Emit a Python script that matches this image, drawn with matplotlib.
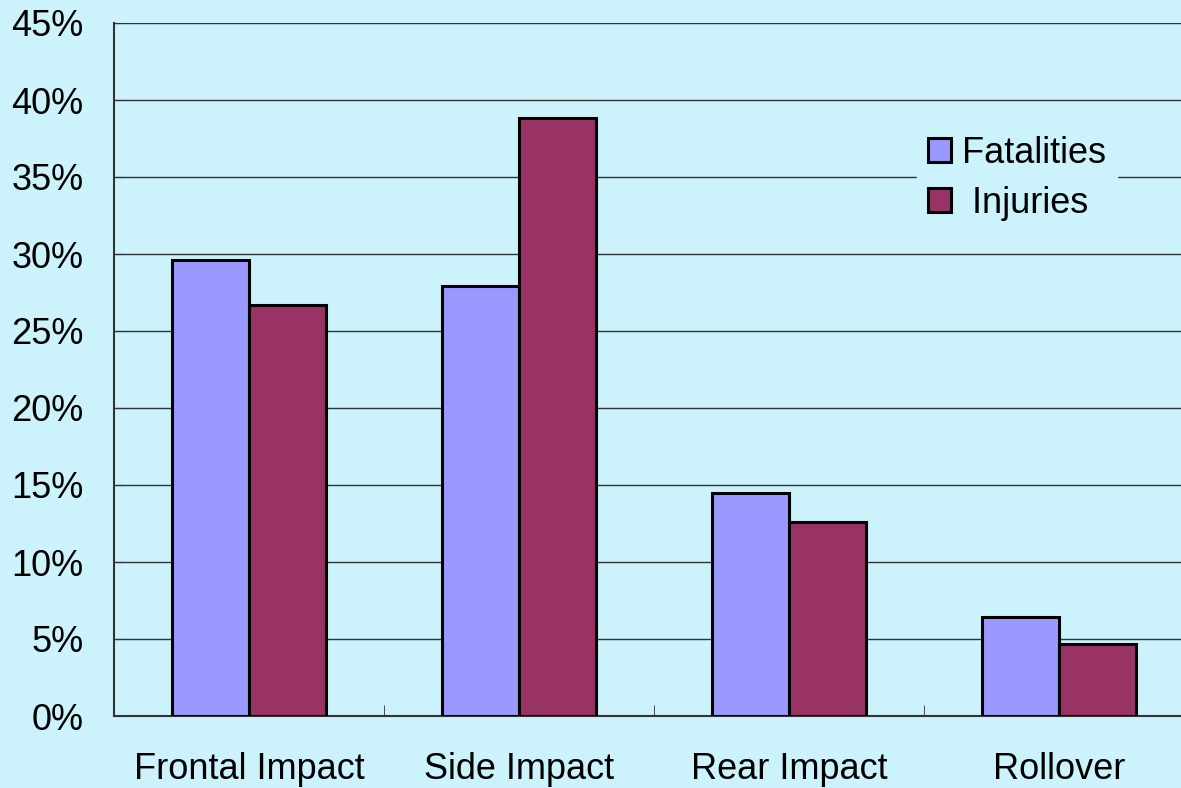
import matplotlib.pyplot as plt
from matplotlib.ticker import PercentFormatter
import numpy as np

plt.rcParams['font.family'] = ['Liberation Sans', 'DejaVu Sans']

categories = ["Frontal Impact", "Side Impact", "Rear Impact", "Rollover"]
fatalities = [29.6, 27.9, 14.5, 6.4]
injuries = [26.7, 38.8, 12.6, 4.7]

bg = "#CCF2FC"
fig = plt.figure(figsize=(11.81, 7.88), dpi=100, facecolor=bg)
ax = fig.add_axes([114 / 1181, 1 - 716 / 788, 1080 / 1181, (716 - 23) / 788])
ax.set_facecolor(bg)

x = np.arange(len(categories))
w = 0.287
ax.bar(x - w / 2, fatalities, w, color="#9999FF", edgecolor="black", linewidth=2.2, label="Fatalities", zorder=3)
ax.bar(x + w / 2, injuries, w, color="#993366", edgecolor="black", linewidth=2.2, label=" Injuries", zorder=3)

ax.set_xlim(-0.5, len(categories) - 0.5)
ax.set_ylim(0, 45)
ax.set_yticks(np.arange(0, 46, 5))
ax.yaxis.set_major_formatter(PercentFormatter(decimals=0))
ax.yaxis.grid(True, color="#333333", linewidth=1, zorder=0)

ax.set_xticks(x)
ax.set_xticklabels(categories)
ax.set_xticks(x[:-1] + 0.5, minor=True)
ax.tick_params(axis="x", which="major", length=0, pad=26, labelsize=26)
ax.tick_params(axis="x", which="minor", length=8, direction="in", color="#333333")
ax.tick_params(axis="y", length=8, direction="in", color="#333333", labelsize=26, pad=22)

for side in ["top", "right"]:
    ax.spines[side].set_visible(False)
ax.spines["left"].set_color("#333333")
ax.spines["left"].set_linewidth(1.5)
ax.spines["bottom"].set_color("#333333")
ax.spines["bottom"].set_linewidth(1.5)

leg = ax.legend(loc="center", bbox_to_anchor=(0.836, 0.776), fontsize=26, frameon=True,
                facecolor=bg, edgecolor=bg, framealpha=1, handlelength=0.65, handleheight=0.65,
                handletextpad=0.3, labelspacing=0.42, borderpad=0.3)
leg.set_zorder(5)

fig.savefig("out.png", dpi=100, facecolor=bg)
